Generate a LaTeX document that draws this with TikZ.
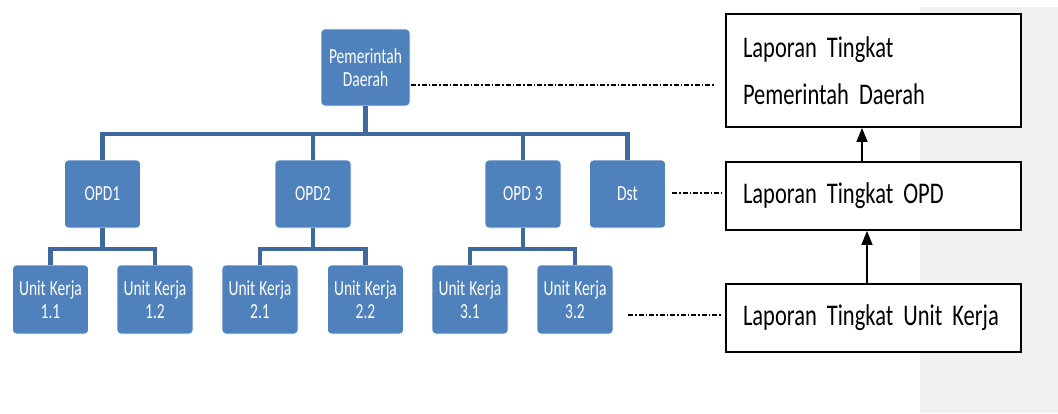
\documentclass[tikz,border=0pt]{standalone}
\usepackage{fontspec}
\setmainfont{Carlito}[FakeStretch=0.78]
\newfontfamily\chartfont{Carlito}[FakeStretch=0.72]
\newfontfamily\reportfont{Carlito}[FakeStretch=0.75]
\newcommand\chartstyle{\chartfont\fontsize{21.5}{23}\selectfont\spaceskip=4pt plus 1pt\relax}
\newcommand\reportstyle{\reportfont\fontsize{30}{47}\selectfont\spaceskip=5.5pt plus 1pt\relax}
\usetikzlibrary{arrows.meta,calc}
\definecolor{orgfill}{RGB}{79,129,189}
\definecolor{orgline}{RGB}{62,104,158}
\definecolor{panelgrey}{RGB}{241,241,241}
\begin{document}
\begin{tikzpicture}[x=1pt,y=-1pt,
  orgbox/.style={draw=white, line width=0.6pt, fill=orgfill, rounded corners=4pt,
    text=white, align=center, inner sep=0pt, font=\chartstyle},
  topbox/.style={orgbox, minimum width=89pt, minimum height=77pt},
  midbox/.style={orgbox, minimum width=76pt, minimum height=68pt},
  lowbox/.style={orgbox, minimum width=76pt, minimum height=69pt},
  conn/.style={draw=orgline, line width=4.5pt},
  report/.style={draw=black, line width=1.8pt, fill=white,
    minimum width=295pt, text width=261pt, align=left, inner xsep=17pt,
    font=\reportstyle},
  dashdot/.style={draw=black, line width=1.6pt,
    dash pattern=on 5pt off 2pt on 1.5pt off 2pt},
  uparrow/.style={draw=black, line width=1.4pt, -{Triangle[length=14pt,width=11pt]}}
]
\useasboundingbox (0,0) rectangle (1058,413);
\fill[white] (0,0) rectangle (1058,413);
\fill[panelgrey] (920,7) rectangle (1058,413);

% organisation chart
\node[topbox] (pd) at (365.5,67.5) {Pemerintah\\Daerah};
\node[midbox] (opd1) at (102.5,194) {OPD1};
\node[midbox] (opd2) at (313,194) {OPD2};
\node[midbox] (opd3) at (523,194) {OPD 3};
\node[midbox] (dst) at (627.5,194) {Dst};
\node[lowbox] (uk11) at (50.5,299.5) {Unit Kerja\\1.1};
\node[lowbox] (uk12) at (155,299.5) {Unit Kerja\\1.2};
\node[lowbox] (uk21) at (260,299.5) {Unit Kerja\\2.1};
\node[lowbox] (uk22) at (365.5,299.5) {Unit Kerja\\2.2};
\node[lowbox] (uk31) at (470,299.5) {Unit Kerja\\3.1};
\node[lowbox] (uk32) at (575,299.5) {Unit Kerja\\3.2};

% bus levels of the tree
\coordinate (bus0) at (0,134);
\coordinate (bus1) at (0,249);

\foreach \c in {opd1,opd2,opd3,dst}
  \draw[conn] (pd.south) -- (pd.south |- bus0) -| (\c.north);
\foreach \p/\a/\b in {opd1/uk11/uk12, opd2/uk21/uk22, opd3/uk31/uk32}{
  \draw[conn] (\p.south) -- (\p.south |- bus1) -| (\a.north);
  \draw[conn] (\p.south) -- (\p.south |- bus1) -| (\b.north);
}

% report levels
\node[report, minimum height=113pt] (r1) at (873.5,70.5)
  {Laporan Tingkat\\Pemerintah Daerah};
\node[report, minimum height=68pt] (r2) at (873.5,196)
  {\mbox{Laporan Tingkat OPD}};
\node[report, minimum height=68pt] (r3) at (873.5,318)
  {\mbox{Laporan Tingkat Unit Kerja}};

\draw[uparrow] ([xshift=-11.5pt]r2.north) -- ([xshift=-11.5pt]r1.south);
\draw[uparrow] ([xshift=-6.5pt]r3.north) -- ([xshift=-6.5pt]r2.south);

% dash-dot links between chart levels and reports
\coordinate (l1a) at (411,85);   \coordinate (l1b) at (715,85);
\coordinate (l2a) at (672,193);  \coordinate (l2b) at (722,193);
\coordinate (l3a) at (628,315);  \coordinate (l3b) at (722,315);
\draw[dashdot] (l1a) -- (l1b);
\draw[dashdot] (l2a) -- (l2b);
\draw[dashdot] (l3a) -- (l3b);
\end{tikzpicture}
\end{document}
